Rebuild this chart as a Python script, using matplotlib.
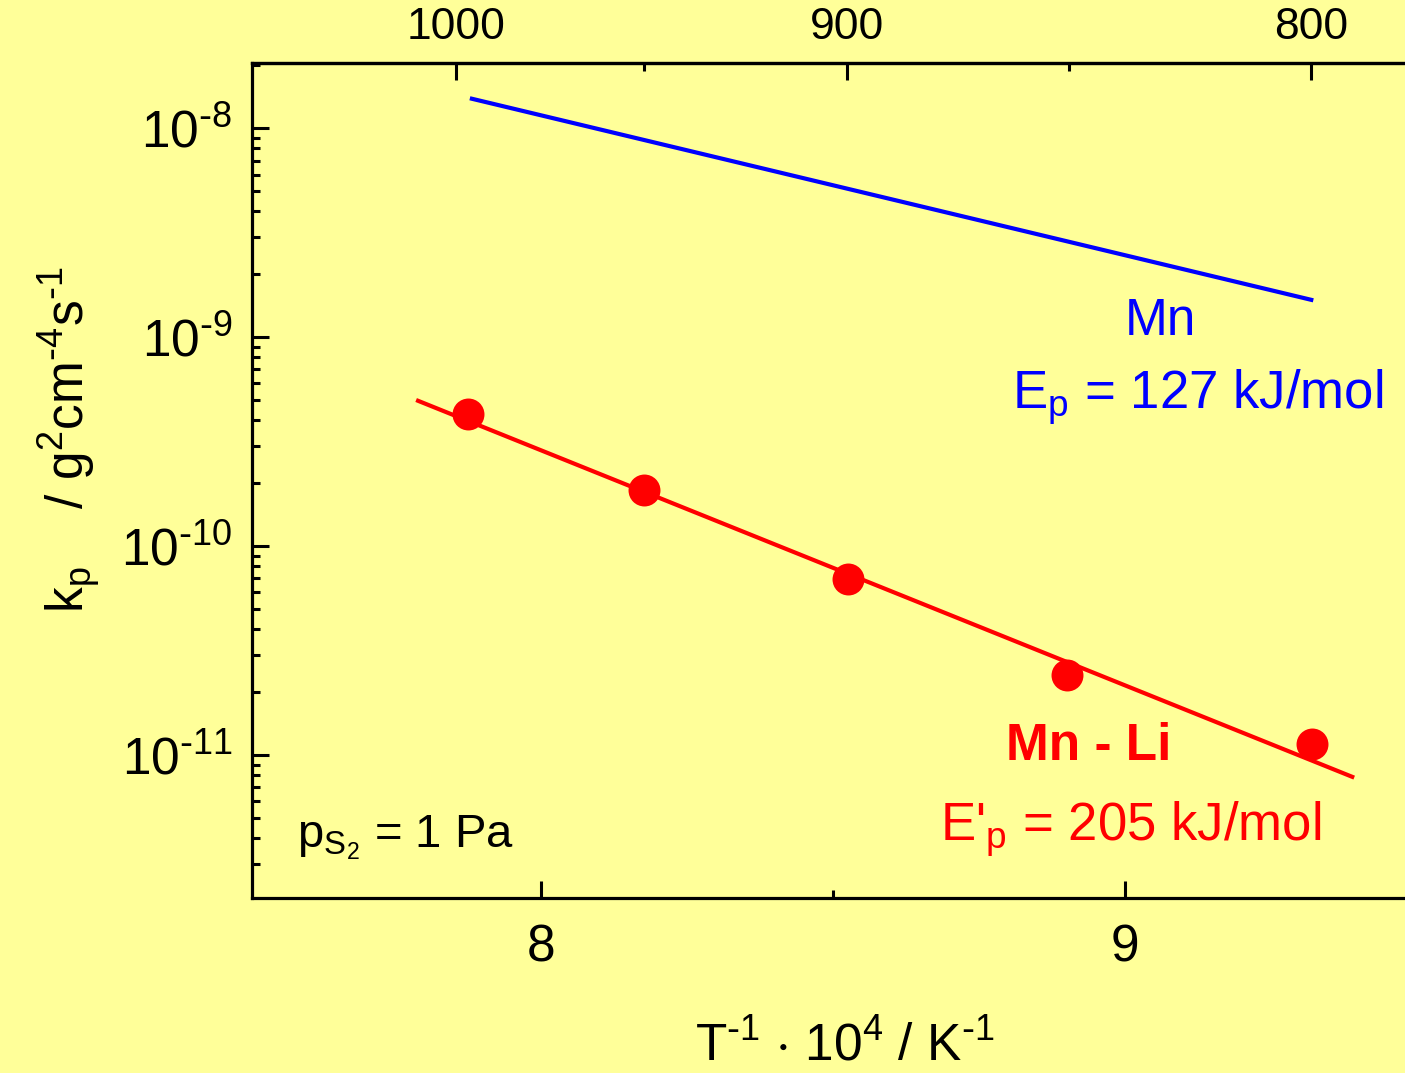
#!/usr/bin/env python3
'''
Arrhenius plot of the parabolic rate constant for Mn and Mn-Li sulphidation
'''
import numpy as np
import matplotlib
matplotlib.use('Agg')
import matplotlib.pyplot as plt
from matplotlib.ticker import LogLocator, FixedLocator, NullFormatter

# measured rate constants, Mn-Li alloy
inv_t = [7.875, 8.176, 8.526, 8.901, 9.320]
kp_mnli = [4.28e-10, 1.85e-10, 6.95e-11, 2.42e-11, 1.13e-11]

# fitted Arrhenius lines (end points)
fit_mn_x = [7.878, 9.322]
fit_mn_k = [1.39e-8, 1.50e-9]
fit_mnli_x = [7.786, 9.392]
fit_mnli_k = [5.0e-10, 7.8e-12]

# temperature scale on top, degrees C
top_major = [1000, 900, 800]
top_minor = [950, 850]

ytick_vals = [1e-11, 1e-10, 1e-9, 1e-8]
ytick_labels = [r'10$^{\text{-}11}$', r'10$^{\text{-}10}$',
                r'10$^{\text{-}9}$', r'10$^{\text{-}8}$']

bg = '#ffff99'
plt.rcParams['font.family'] = ['Liberation Sans', 'DejaVu Sans']
plt.rcParams['mathtext.default'] = 'regular'

fig = plt.figure(figsize=(14.05, 10.73), dpi=100, facecolor=bg)
ax = fig.add_axes([252 / 1405, 1 - 898 / 1073, 1 - 252 / 1405, (898 - 63) / 1073])
ax.set_facecolor(bg)

ax.plot(fit_mn_x, fit_mn_k, color='#0000ff', lw=3, solid_capstyle='butt')
ax.plot(fit_mnli_x, fit_mnli_k, color='#ff0000', lw=3, solid_capstyle='butt')
ax.plot(inv_t, kp_mnli, 'o', color='#ff0000', ms=23, mec='none')

ax.set_yscale('log')
ax.set_xlim(7.505, 9.479)
ax.set_ylim(2.07e-12, 2.05e-8)

ax.spines['right'].set_visible(False)
for s in ['left', 'bottom', 'top']:
    ax.spines[s].set_linewidth(2.3)

ax.set_xticks([8, 9])
ax.set_xticks([8.5], minor=True)
ax.set_xticklabels(['8', '9'])
ax.yaxis.set_minor_locator(LogLocator(base=10, subs=np.arange(2, 10), numticks=20))
ax.yaxis.set_minor_formatter(NullFormatter())
ax.set_yticks(ytick_vals)
ax.set_yticklabels(ytick_labels)
ax.tick_params(which='both', direction='in', width=2.2, top=False, right=False)
ax.tick_params(which='major', length=12, labelsize=37)
ax.tick_params(which='minor', length=6)
ax.tick_params(axis='x', pad=18)
ax.tick_params(axis='y', pad=14)

# temperature axis
top = ax.secondary_xaxis('top', functions=(lambda x: 1e4 / x - 273.15,
                                           lambda t: 1e4 / (t + 273.15)))
top.xaxis.set_major_locator(FixedLocator(top_major))
top.xaxis.set_minor_locator(FixedLocator(top_minor))
top.xaxis.set_minor_formatter(NullFormatter())
top.tick_params(which='both', direction='in', width=2.2)
top.tick_params(which='major', length=12, labelsize=32, pad=11)
top.tick_params(which='minor', length=6)
top.spines['top'].set_linewidth(2.3)

ax.text(9.060, 10 ** -8.990, 'Mn', color='#0000ff', fontsize=37,
        ha='center', va='baseline')
ax.text(8.806, 10 ** -9.340, 'E$_p$ = 127 kJ/mol', color='#0000ff',
        fontsize=38, ha='left', va='baseline')
ax.text(8.937, 10 ** -11.024, 'Mn - Li', color='#ff0000', fontsize=37,
        fontweight='bold', ha='center', va='baseline')
ax.text(8.683, 10 ** -11.407, "E'$_p$ = 205 kJ/mol", color='#ff0000',
        fontsize=38, ha='left', va='baseline')
ax.text(7.582, 10 ** -11.440, 'p$_{S_2}$ = 1 Pa', color='black',
        fontsize=34, ha='left', va='baseline')

fig.text(845 / 1405, 1 - 1061 / 1073,
         r'T$^{\text{-}1}$ $\cdot$ 10$^4$ / K$^{\text{-}1}$',
         fontsize=37, ha='center', va='baseline')
fig.text(70 / 1405, 1 - 440 / 1073,
         r'k$_p$    / g$^2$cm$^{\text{-}4}$s$^{\text{-}1}$',
         fontsize=37, rotation=90, ha='center', va='center')

fig.savefig('out.png', dpi=100, facecolor=bg)
